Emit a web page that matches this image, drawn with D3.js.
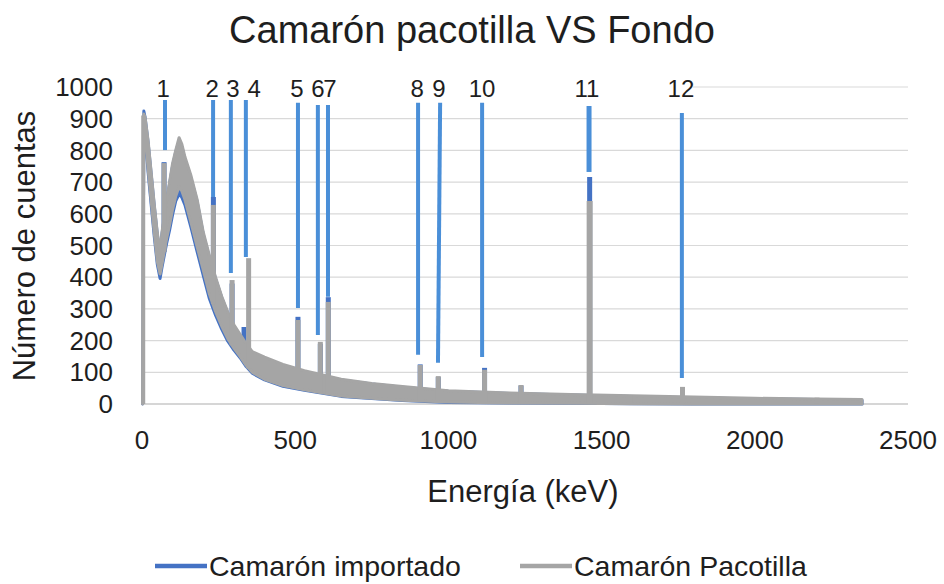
<!DOCTYPE html>
<html>
<head>
<meta charset="utf-8">
<script src="https://cdn.jsdelivr.net/npm/d3@7"></script>
<style>
  html, body { margin: 0; padding: 0; background: #fff; }
  svg { display: block; font-family: "Liberation Sans", Arial, sans-serif; }
</style>
</head>
<body>
<svg id="chart" width="944" height="584"></svg>
<script>
// ---------- data ----------
const title = "Camarón pacotilla VS Fondo";
const xTitle = "Energía (keV)";
const yTitle = "Número de cuentas";
const seriesNames = ["Camarón importado", "Camarón Pacotilla"];
const xTicks = [0, 500, 1000, 1500, 2000, 2500];
const yTicks = [0, 100, 200, 300, 400, 500, 600, 700, 800, 900, 1000];

// continuum (noisy band) : energy, lower and upper edge of the band
const energy = [2, 6, 10, 20, 30, 40, 50, 59, 65, 80, 90, 100, 110, 121, 130, 140, 160, 180, 200, 220, 240, 260, 280, 300, 320, 340, 360, 400, 460, 530, 650, 750, 850, 1000, 1200, 1400, 1600, 1800, 2000, 2200, 2350];
const grayLo = [0, 880, 860, 740, 640, 540, 450, 410, 440, 520, 565, 615, 655, 685, 672, 645, 572, 496, 422, 347, 292, 246, 206, 176, 150, 122, 100, 78, 58, 45, 25, 18, 12, 6, 3, 2, 1, 0, 0, 0, 0];
const grayHi = [0, 915, 905, 830, 730, 630, 540, 480, 540, 640, 700, 760, 800, 840, 820, 780, 720, 645, 542, 468, 400, 340, 290, 250, 220, 190, 165, 148, 125, 105, 78, 65, 55, 42, 35, 30, 26, 22, 18, 16, 14];
const blueLo = [0, 870, 850, 730, 628, 528, 440, 396, 430, 505, 548, 598, 640, 662, 652, 628, 556, 480, 405, 332, 280, 236, 198, 170, 146, 118, 97, 76, 56, 43, 24, 17, 11, 5, 3, 2, 1, 0, 0, 0, 0];
const blueHi = [0, 924, 905, 825, 725, 625, 535, 478, 535, 635, 695, 752, 795, 830, 812, 772, 712, 638, 535, 462, 395, 336, 286, 246, 216, 186, 162, 145, 122, 102, 76, 63, 53, 40, 33, 28, 24, 20, 16, 14, 12];

// peaks (spikes) of each series: energy, top, and foot (band level under the spike)
const grayPeakE    = [4, 72, 233, 294, 348, 509, 582, 608, 908, 967, 1118, 1461, 1764, 1237, 1593, 2203];
const grayPeak     = [910, 760, 628, 391, 460, 265, 196, 322, 123, 88, 108, 640, 54, 60, 28, 20];
const grayPeakFoot = [0, 480, 315, 185, 112, 52, 34, 30, 12, 10, 6, 3, 2, 4, 2, 1];
const bluePeakE    = [72, 233, 294, 333, 509, 582, 608, 908, 967, 1118, 1461, 1764, 1237];
const bluePeak     = [763, 653, 380, 243, 275, 190, 337, 125, 85, 114, 716, 50, 58];
const bluePeakFoot = [480, 315, 185, 150, 52, 34, 30, 12, 10, 6, 3, 2, 4];

// numbered peak markers
const markLabel  = ["1","2","3","4","5","6","7","8","9","10","11","12"];
const markLabelE = [69, 229, 297, 366, 506, 574, 613, 898, 969, 1110, 1452, 1759];
const markTopE   = [75, 232, 290, 339, 509, 574, 607, 901, 973, 1110, 1459, 1762];
const markBotE   = [75, 232, 290, 339, 509, 574, 607, 901, 966, 1110, 1459, 1762];
const markTop    = [959, 959, 959, 959, 950, 943, 943, 950, 950, 950, 940, 918];
const markBottom = [801, 653, 413, 464, 303, 218, 338, 155, 130, 148, 732, 82];

// ---------- drawing ----------
const svg = d3.select("#chart");
const x = d3.scaleLinear().domain([0, 2500]).range([142, 908]);
const y = d3.scaleLinear().domain([0, 1000]).range([404, 87]);

const BLUE = "#4472C4", GRAY = "#A5A5A5", MARK = "#4a8fd8", TXT = "#1e1e1e";

// title
svg.append("text").attr("x", 472).attr("y", 43).attr("text-anchor", "middle")
  .attr("font-size", 38).attr("fill", TXT).text(title);

// gridlines
svg.append("g").selectAll("line").data(yTicks.filter(d => d > 0)).join("line")
  .attr("x1", x(0)).attr("x2", x(2500))
  .attr("y1", d => y(d)).attr("y2", d => y(d))
  .attr("stroke", "#d9d9d9").attr("stroke-width", 1.2);
// x axis line
svg.append("line").attr("x1", x(0)).attr("x2", x(2500)).attr("y1", y(0)).attr("y2", y(0))
  .attr("stroke", "#c8c8c8").attr("stroke-width", 1.4);

// y tick labels
svg.append("g").selectAll("text").data(yTicks).join("text")
  .attr("x", 113).attr("y", d => y(d)).attr("dy", "0.35em").attr("text-anchor", "end")
  .attr("font-size", 26).attr("fill", TXT).text(d => d);
// x tick labels
svg.append("g").selectAll("text").data(xTicks).join("text")
  .attr("x", d => x(d)).attr("y", 449).attr("text-anchor", "middle")
  .attr("font-size", 26).attr("fill", TXT).text(d => d);

// axis titles
svg.append("text").attr("transform", "translate(35,246) rotate(-90)").attr("text-anchor", "middle")
  .attr("font-size", 31).attr("fill", TXT).text(yTitle);
svg.append("text").attr("x", 523).attr("y", 502).attr("text-anchor", "middle")
  .attr("font-size", 31).attr("fill", TXT).text(xTitle);

// series helpers
function band(lo, hi) {
  return energy.map((e, i) => ({ e, lo: lo[i], hi: hi[i] }));
}
function peaks(es, tops, feet) {
  return es.map((e, i) => ({ e, v: tops[i], f: feet[i] }));
}
const area = d3.area().x(d => x(d.e)).y0(d => y(d.lo)).y1(d => y(d.hi)).curve(d3.curveLinear);

const plot = svg.append("g");
// blue series (below)
plot.append("path").datum(band(blueLo, blueHi)).attr("d", area)
  .attr("fill", BLUE).attr("stroke", BLUE).attr("stroke-width", 3).attr("stroke-linejoin", "round");
plot.append("g").selectAll("line").data(peaks(bluePeakE, bluePeak, bluePeakFoot)).join("line")
  .attr("x1", d => x(d.e)).attr("x2", d => x(d.e)).attr("y1", d => y(d.f)).attr("y2", d => y(d.v))
  .attr("stroke", BLUE).attr("stroke-width", 5);
// gray series (on top)
plot.append("path").datum(band(grayLo, grayHi)).attr("d", area)
  .attr("fill", GRAY).attr("stroke", GRAY).attr("stroke-width", 3).attr("stroke-linejoin", "round");
plot.append("g").selectAll("line").data(peaks(grayPeakE, grayPeak, grayPeakFoot)).join("line")
  .attr("x1", d => x(d.e)).attr("x2", d => x(d.e)).attr("y1", d => y(d.f)).attr("y2", d => y(d.v))
  .attr("stroke", GRAY).attr("stroke-width", d => d.e === 1461 ? 6 : (d.e < 10 ? 4 : 5));

// marker lines
const marks = markLabel.map((t, i) => ({ t, le: markLabelE[i], te: markTopE[i], be: markBotE[i], top: markTop[i], bot: markBottom[i] }));
svg.append("g").selectAll("line").data(marks).join("line")
  .attr("x1", d => x(d.te)).attr("x2", d => x(d.be))
  .attr("y1", d => y(d.top)).attr("y2", d => y(d.bot))
  .attr("stroke", MARK).attr("stroke-width", d => d.t === "11" ? 5 : 4);

// label box (hides the top gridline behind the labels)
const lastMark = marks[marks.length - 1];
svg.append("rect").attr("x", x(0) - 1).attr("y", y(1000) - 8)
  .attr("width", x(lastMark.le) + 12 - x(0) + 1).attr("height", 18).attr("fill", "#fff");
svg.append("g").selectAll("text").data(marks).join("text")
  .attr("x", d => x(d.le)).attr("y", 97).attr("text-anchor", "middle")
  .attr("font-size", 24).attr("fill", TXT).text(d => d.t);

// legend
const lg = svg.append("g");
const legendItems = [
  { name: seriesNames[0], color: BLUE, x0: 155 },
  { name: seriesNames[1], color: GRAY, x0: 520 }
];
legendItems.forEach(it => {
  lg.append("line").attr("x1", it.x0).attr("x2", it.x0 + 52).attr("y1", 566).attr("y2", 566)
    .attr("stroke", it.color).attr("stroke-width", 4.5);
  lg.append("text").attr("x", it.x0 + 54).attr("y", 576).attr("font-size", 28.5)
    .attr("fill", TXT).text(it.name);
});
</script>
</body>
</html>
